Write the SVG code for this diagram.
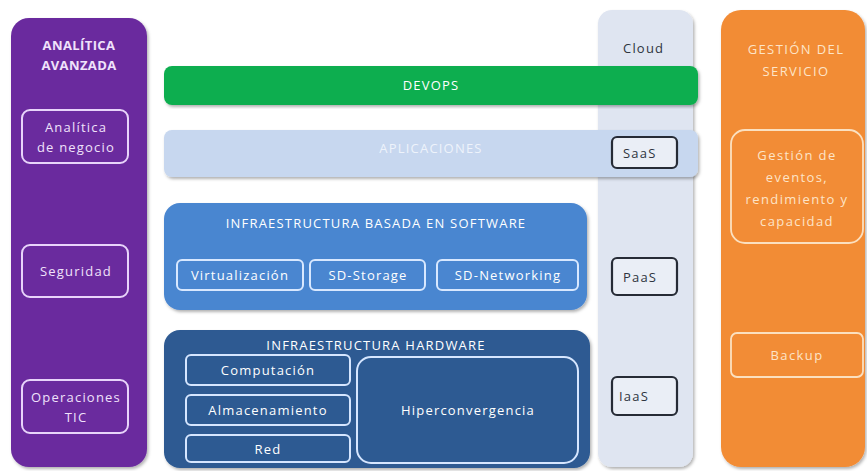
<svg xmlns="http://www.w3.org/2000/svg" width="867" height="471" viewBox="0 0 867 471">
  <defs>
    <filter id="shadow" x="-5%" y="-5%" width="115%" height="115%">
      <feDropShadow dx="1.5" dy="2" stdDeviation="1.5" flood-color="#000" flood-opacity="0.3"/>
    </filter>
    <style>
      text { font-family: "Open Sans", "Noto Sans", "Liberation Sans", sans-serif; font-size: 13px; font-weight: 500; letter-spacing: 1.2px; text-anchor: middle; dominant-baseline: central; }
      .panel { filter: url(#shadow); }
      .w { fill: #ffffff; }
      .wt { fill: #f0e2fb; }
      .title { font-weight: bold; letter-spacing: 0.4px; }
      .o { fill: #fde4c8; font-weight: normal; letter-spacing: 1.4px; }
      .dark { fill: #2e3440; text-anchor: start; }
      .purple-box { fill: #6a2b9e; stroke: #e8d4fa; stroke-width: 2; }
      .sw-box { fill: #4a86d0; stroke: #d8e8ff; stroke-width: 2; }
      .hw-box { fill: #2d5a92; stroke: #d6e6ff; stroke-width: 2; }
      .cloud-box { fill: #eaeef6; stroke: #262b36; stroke-width: 2.2; }
      .orange-box { fill: #f28c36; stroke: #fbe0c0; stroke-width: 1.8; }
    </style>
  </defs>

  <rect width="867" height="471" fill="#ffffff"/>

  <!-- Cloud column (behind the horizontal bars) -->
  <g id="cloud">
    <rect class="panel" x="598" y="10" width="95" height="457" rx="14" fill="#dfe5f1"/>
    <text class="dark" x="623" y="48">Cloud</text>
  </g>

  <!-- Left column: advanced analytics -->
  <g id="analitica">
    <rect class="panel" x="11" y="18" width="136" height="449" rx="18" fill="#6a2b9e"/>
    <text class="wt title" x="79" y="45">ANALÍTICA</text>
    <text class="wt title" x="79" y="65">AVANZADA</text>
  </g>
  <g id="analitica-negocio">
    <rect class="purple-box" x="22" y="110" width="106" height="53" rx="8"/>
    <text class="wt" x="76" y="127">Analítica</text>
    <text class="wt" x="76" y="147">de negocio</text>
  </g>
  <g id="seguridad">
    <rect class="purple-box" x="22" y="245" width="106" height="52" rx="8"/>
    <text class="wt" x="76" y="271">Seguridad</text>
  </g>
  <g id="operaciones-tic">
    <rect class="purple-box" x="22" y="380" width="106" height="53" rx="8"/>
    <text class="wt" x="76" y="397">Operaciones</text>
    <text class="wt" x="76" y="417">TIC</text>
  </g>

  <!-- DevOps bar -->
  <g id="devops">
    <rect class="panel" x="164" y="66" width="534" height="39" rx="8" fill="#0fae50"/>
    <text class="w" x="431" y="85">DEVOPS</text>
  </g>

  <!-- Applications bar -->
  <g id="aplicaciones">
    <rect class="panel" x="164" y="130" width="534" height="47" rx="8" fill="#c7d7ef"/>
    <text x="431" y="148" fill="#eef3fb">APLICACIONES</text>
  </g>

  <!-- Software-defined infrastructure -->
  <g id="infra-software">
    <rect class="panel" x="164" y="203" width="423" height="107" rx="16" fill="#4a86d0"/>
    <text class="w" x="376" y="223">INFRAESTRUCTURA BASADA EN SOFTWARE</text>
  </g>
  <g id="virtualizacion">
    <rect class="sw-box" x="177" y="260" width="126" height="30" rx="5"/>
    <text class="w" x="240" y="275">Virtualización</text>
  </g>
  <g id="sd-storage">
    <rect class="sw-box" x="310" y="260" width="115" height="30" rx="5"/>
    <text class="w" x="368" y="275">SD-Storage</text>
  </g>
  <g id="sd-networking">
    <rect class="sw-box" x="437" y="260" width="141" height="30" rx="5"/>
    <text class="w" x="508" y="275">SD-Networking</text>
  </g>

  <!-- Hardware infrastructure -->
  <g id="infra-hardware">
    <rect class="panel" x="164" y="330" width="426" height="138" rx="16" fill="#2d5a92"/>
    <text class="w" x="376" y="345">INFRAESTRUCTURA HARDWARE</text>
  </g>
  <g id="computacion">
    <rect class="hw-box" x="186" y="355" width="164" height="30" rx="5"/>
    <text class="w" x="268" y="370">Computación</text>
  </g>
  <g id="almacenamiento">
    <rect class="hw-box" x="186" y="395" width="164" height="30" rx="5"/>
    <text class="w" x="268" y="410">Almacenamiento</text>
  </g>
  <g id="red">
    <rect class="hw-box" x="186" y="435" width="164" height="27" rx="5"/>
    <text class="w" x="268" y="449">Red</text>
  </g>
  <g id="hiperconvergencia">
    <rect class="hw-box" x="357" y="357" width="221" height="106" rx="14"/>
    <text class="w" x="468" y="410">Hiperconvergencia</text>
  </g>

  <!-- Cloud service models -->
  <g id="saas">
    <rect class="cloud-box" x="612" y="137" width="65" height="31" rx="5"/>
    <text class="dark" x="623" y="153">SaaS</text>
  </g>
  <g id="paas">
    <rect class="cloud-box" x="612" y="258" width="65" height="37" rx="5"/>
    <text class="dark" x="623" y="277">PaaS</text>
  </g>
  <g id="iaas">
    <rect class="cloud-box" x="612" y="377" width="65" height="38" rx="5"/>
    <text class="dark" x="619" y="396">IaaS</text>
  </g>

  <!-- Right column: service management -->
  <g id="gestion-servicio">
    <rect class="panel" x="721" y="10" width="144" height="457" rx="20" fill="#f28c36"/>
    <text class="o" x="796" y="49">GESTIÓN DEL</text>
    <text class="o" x="796" y="71">SERVICIO</text>
  </g>
  <g id="gestion-eventos">
    <rect class="orange-box" x="731" y="130" width="132" height="113" rx="14"/>
    <text class="o" x="797" y="155">Gestión de</text>
    <text class="o" x="797" y="177">eventos,</text>
    <text class="o" x="797" y="199">rendimiento y</text>
    <text class="o" x="797" y="221">capacidad</text>
  </g>
  <g id="backup">
    <rect class="orange-box" x="731" y="333" width="132" height="44" rx="6"/>
    <text class="o" x="797" y="355">Backup</text>
  </g>

  <g id="connectors"/>
</svg>
